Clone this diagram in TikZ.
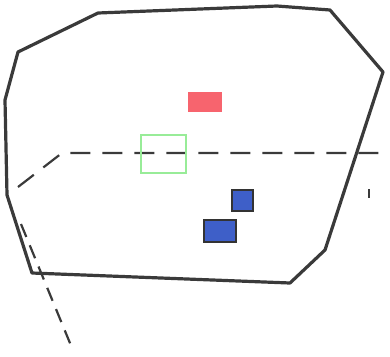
\documentclass[tikz,border=0pt]{standalone}
\usepackage{tikz}
\usetikzlibrary{positioning}

\definecolor{hullgray}{HTML}{3A3A3A}
\definecolor{redbox}{HTML}{F7646E}
\definecolor{greenbox}{HTML}{98EC98}
\definecolor{bluebox}{HTML}{3E5FC8}

\begin{document}
\begin{tikzpicture}[
    x=1pt, y=-1pt,
    hull/.style={draw=hullgray, line width=3.2pt, line join=round},
    cutline/.style={draw=hullgray, dashed, dash pattern=on 20pt off 12pt, line width=2.2pt},
    box/.style={rectangle, inner sep=0pt, anchor=north west},
    redrect/.style={box, fill=redbox},
    greenrect/.style={box, draw=greenbox, line width=1.8pt},
    bluerect/.style={box, fill=bluebox, draw=black!80, line width=1.8pt}
]
\useasboundingbox (0,0) rectangle (390,356);

% outline
\draw[hull] (98,13) -- (277,6) -- (330,10) -- (383,72) -- (325,250)
    -- (290,283) -- (32,273) -- (7,195) -- (5,100) -- (18,52) -- cycle;

% dashed guides
\coordinate (h0) at (18,187);
\coordinate (h1) at (62,153);
\coordinate (h2) at (392,153);
\draw[cutline] (h0) -- (h1) -- (h2);
\coordinate (d0) at (21,224);
\coordinate (d1) at (72,348);
\draw[cutline, dash pattern=on 14pt off 9pt] (d0) -- (d1);
\coordinate (t0) at (369,189);
\coordinate (t1) at (369,198);
\draw[draw=hullgray, line width=1.6pt] (t0) -- (t1);

% boxes
\node[redrect, minimum width=34pt, minimum height=20pt] (red) at (188,92) {};
\node[greenrect, minimum width=45pt, minimum height=38pt] (green) at (140,134) {};
\node[bluerect, minimum width=21pt, minimum height=21pt] (blueA) at (231,189) {};
\node[bluerect, minimum width=32pt, minimum height=22pt] (blueB) at (203,219) {};
\end{tikzpicture}
\end{document}
